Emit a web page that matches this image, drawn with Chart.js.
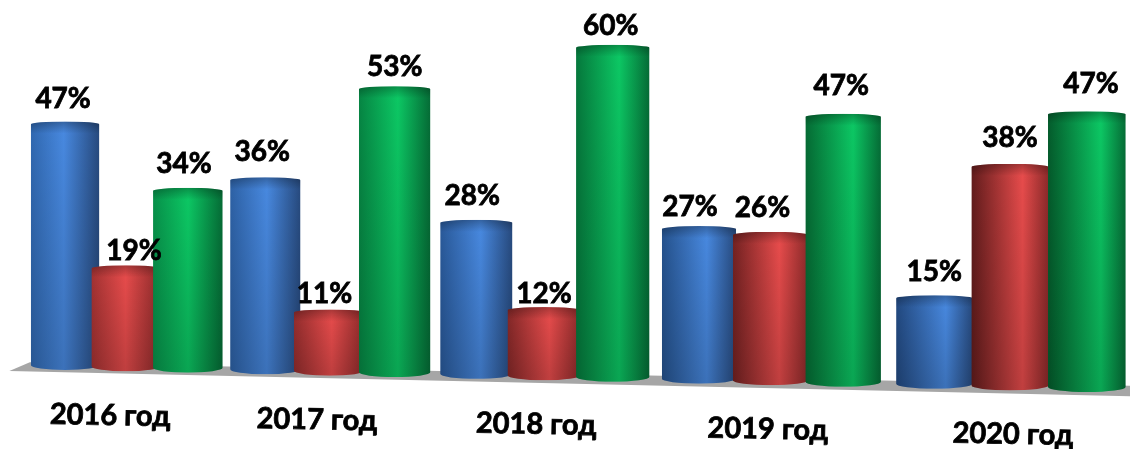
<!DOCTYPE html>
<html>
<head>
<meta charset="utf-8">
<title>2016-2020</title>
<script src="https://cdn.jsdelivr.net/npm/chart.js@4"></script>
<style>
  body { margin: 0; background: #fff; }
  canvas { display: block; }
</style>
</head>
<body>
<canvas id="chart" width="1130" height="449"></canvas>
<script>
const categories = ["2016 год", "2017 год", "2018 год", "2019 год", "2020 год"];
const blueValues = [47, 36, 28, 27, 15];
const redValues = [19, 11, 12, 26, 38];
const greenValues = [34, 53, 60, 47, 47];

// left edge (near / far end of the floor), highlight, right edge
const blueShade = ["#3068b0", "#1f4478", "#4889e0", "#274a7e"];
const redShade = ["#a83434", "#5c1a1a", "#e84c4c", "#8c2a2a"];
const greenShade = ["#07994e", "#045c2c", "#0cc864", "#056c36"];

// the labels were placed by hand in the original, so they sit off-centre
const labelNudges = [
  [[-2, 3], [-3, 0], [-4, 1], [-9, 6], [0, 2]],
  [[8, 11], [-5, 10], [0, 12], [-8, 1], [0, -1]],
  [[-4, 1], [0, 6], [-2, 6], [-2, -3], [4, -2]],
];
const categoryNudges = [14, 10, 7, 4, 1];

const FONT = 'bold 28px Lato, "Noto Sans", sans-serif';
const CATEGORY_FONT = 'bold 29px Lato, "Noto Sans", sans-serif';

// perspective of the floor: flat chart pixels -> picture pixels
function project(chart, x, y) {
  const u = x / chart.width;
  const w = 1 - 0.127 * u;
  const zero = chart.scales.y.getPixelForValue(0);
  return {
    x: (962.6 * u + 28.14) / w,
    y: (364.2 - 25.4 * u) / w - ((zero - y) * 0.794) / w,
    w: w,
  };
}

function mix(a, b, t) {
  const pa = parseInt(a.slice(1), 16);
  const pb = parseInt(b.slice(1), 16);
  const parts = [16, 8, 0].map((s) =>
    Math.round(((pa >> s) & 255) * (1 - t) + ((pb >> s) & 255) * t)
  );
  return `rgb(${parts.join(",")})`;
}

function drawFloor(chart) {
  const ctx = chart.ctx;
  const zero = chart.scales.y.getPixelForValue(0);
  const points = [
    project(chart, -22, zero + 9),
    project(chart, 2, zero - 2.5),
    project(chart, 1140, zero - 2.5),
    project(chart, 1140, zero + 9),
  ];
  ctx.fillStyle = "#a6a6a6";
  ctx.beginPath();
  points.forEach((p) => ctx.lineTo(p.x, p.y));
  ctx.closePath();
  ctx.fill();
}

function drawCylinder(chart, bar, shade) {
  const ctx = chart.ctx;
  const top = project(chart, bar.x, bar.y);
  const bottom = project(chart, bar.x, bar.base);
  const rx = (bar.width * 0.975) / top.w / 2;
  const topRy = 3;
  const bottomRy = 5;
  const left = top.x - rx;
  const far = (top.x - 60) / 1030;

  ctx.save();
  ctx.beginPath();
  ctx.moveTo(left, top.y);
  ctx.ellipse(top.x, top.y, rx, topRy, 0, Math.PI, 2 * Math.PI);
  ctx.lineTo(top.x + rx, bottom.y);
  ctx.ellipse(bottom.x, bottom.y, rx, bottomRy, 0, 0, Math.PI);
  ctx.closePath();
  ctx.clip();

  const side = ctx.createLinearGradient(left, 0, left + 2 * rx, 0);
  side.addColorStop(0, mix(shade[0], shade[1], far));
  side.addColorStop(0.48 + 0.2 * far, shade[2]);
  side.addColorStop(1, shade[3]);
  ctx.fillStyle = side;
  ctx.fillRect(left, top.y - topRy, 2 * rx, bottom.y - top.y + topRy + bottomRy);

  // darker toward the floor, plus the bevel on the top edge
  const fade = ctx.createLinearGradient(0, top.y, 0, bottom.y);
  fade.addColorStop(0, "rgba(0,0,0,0)");
  fade.addColorStop(1, "rgba(0,0,0,0.17)");
  ctx.fillStyle = fade;
  ctx.fillRect(left, top.y - topRy, 2 * rx, bottom.y - top.y + topRy + bottomRy);

  const bevel = ctx.createLinearGradient(0, top.y - topRy, 0, top.y + 9);
  bevel.addColorStop(0, "rgba(0,0,0,0.28)");
  bevel.addColorStop(1, "rgba(0,0,0,0)");
  ctx.fillStyle = bevel;
  ctx.fillRect(left, top.y - topRy, 2 * rx, 12);
  ctx.restore();
}

function boldText(ctx, text, x, y) {
  ctx.fillText(text, x, y);
  ctx.strokeText(text, x, y);
}

const cylinderPlugin = {
  id: "cylinders",
  beforeDatasetsDraw(chart) {
    drawFloor(chart);
  },
  beforeDatasetDraw() {
    return false; // the stock rectangles are replaced below
  },
  afterDatasetsDraw(chart) {
    const ctx = chart.ctx;
    const shades = [blueShade, redShade, greenShade];
    const metas = chart.data.datasets.map((d, i) => chart.getDatasetMeta(i));

    metas.forEach((meta, i) => {
      meta.data.forEach((bar) => drawCylinder(chart, bar, shades[i]));
    });

    ctx.save();
    ctx.font = FONT;
    ctx.fillStyle = "#000";
    ctx.strokeStyle = "#000";
    ctx.lineWidth = 0.8;
    ctx.textAlign = "center";
    ctx.textBaseline = "alphabetic";
    metas.forEach((meta, i) => {
      meta.data.forEach((bar, j) => {
        const top = project(chart, bar.x, bar.y);
        const nudge = labelNudges[i][j];
        const text = `${chart.data.datasets[i].data[j]}%`;
        boldText(ctx, text, top.x + nudge[0], top.y - 19 + nudge[1]);
      });
    });

    // category names follow the slope of the floor
    ctx.font = CATEGORY_FONT;
    metas[1].data.forEach((bar, j) => {
      const center = project(chart, bar.x, bar.base);
      const x = 96 + (center.x - 126) * 1.036 + categoryNudges[j];
      const y = 425 + (x - 110) * 0.0207;
      ctx.save();
      ctx.translate(x, y);
      ctx.rotate(0.02);
      boldText(ctx, chart.data.labels[j], 0, 0);
      ctx.restore();
    });
    ctx.restore();
  },
};

new Chart(document.getElementById("chart"), {
  type: "bar",
  data: {
    labels: categories,
    datasets: [
      { data: blueValues, backgroundColor: "#4889e0" },
      { data: redValues, backgroundColor: "#e84c4c" },
      { data: greenValues, backgroundColor: "#0cc864" },
    ],
  },
  options: {
    responsive: false,
    animation: false,
    layout: { padding: 0 },
    datasets: { bar: { categoryPercentage: 0.929, barPercentage: 1 } },
    plugins: { legend: { display: false }, tooltip: { enabled: false } },
    scales: {
      x: { display: false },
      y: { display: false, min: 0, max: 70 },
    },
  },
  plugins: [cylinderPlugin],
});
</script>
</body>
</html>
